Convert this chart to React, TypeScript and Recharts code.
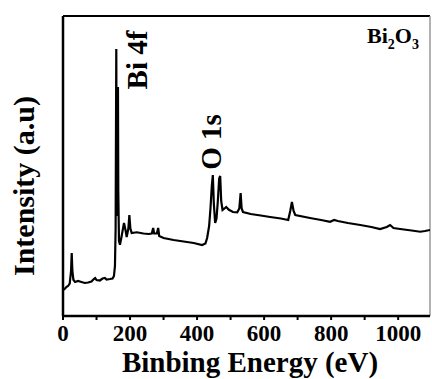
import { LineChart, Line, XAxis, YAxis, ReferenceLine } from 'recharts'

// binding energy (eV) and intensity (a.u.)
const energy = [
  0, 5, 10, 15, 20, 24, 26, 28, 31, 36, 45, 55, 65, 75, 85, 92, 96, 100, 110, 118,
  125, 130, 140, 148, 152, 155, 157, 159, 160, 161, 163, 164, 165, 167, 170, 175, 182, 187, 190, 195,
  198, 201, 205, 220, 240, 255, 265, 269, 272, 280, 284, 287, 300, 330, 360, 390, 415, 425, 430, 436,
  440, 444, 447, 450, 454, 458, 462, 466, 469, 472, 476, 482, 487, 495, 507, 520, 526, 530, 533, 537,
  560, 590, 618, 650, 672, 678, 683, 688, 693, 737, 770, 797, 809, 820, 850, 887, 920, 946, 966, 976,
  986, 1006, 1040, 1066, 1080, 1095,
]
const intensity = [
  1.04, 1.08, 1.16, 1.2, 1.3, 1.8, 2.52, 1.8, 1.45, 1.36, 1.4, 1.36, 1.32, 1.34, 1.38, 1.48, 1.52, 1.44, 1.42, 1.5,
  1.52, 1.46, 1.48, 1.5, 1.6, 2.0, 3.5, 10.68, 6.0, 4.0, 6.5, 9.16, 5.0, 3.0, 2.85, 3.2, 3.72, 3.4, 3.16, 3.5,
  4.04, 3.5, 3.32, 3.35, 3.3, 3.28, 3.3, 3.52, 3.3, 3.3, 3.52, 3.2, 3.12, 3.04, 2.98, 2.92, 2.84, 2.9, 3.12, 3.6,
  4.3, 5.2, 5.64, 4.5, 3.72, 3.9, 4.6, 5.5, 5.6, 4.6, 4.24, 4.3, 4.36, 4.25, 4.16, 4.15, 4.3, 4.92, 4.3, 4.16,
  4.08, 4.02, 3.96, 3.9, 3.84, 4.2, 4.56, 4.2, 4.04, 3.92, 3.84, 3.77, 3.84, 3.8, 3.72, 3.64, 3.56, 3.48, 3.56, 3.64,
  3.52, 3.48, 3.42, 3.37, 3.4, 3.44,
]
const xTicks = [0, 100, 200, 300, 400, 500, 600, 700, 800, 900, 1000]
const yTicks = [0, 1, 2, 3, 4, 5, 6, 7, 8, 9, 10, 11, 12]

const data = energy.map((e, i) => ({ e, v: intensity[i] }))

const font = '"Liberation Serif", "Times New Roman", serif'

export default function App() {
  return (
    <div style={{ position: 'absolute', left: 0, top: 0, width: 432, height: 379, background: '#fff' }}>
      <LineChart
        width={432}
        height={379}
        data={data}
        margin={{ top: 16, right: 2, left: 3, bottom: 33 }}
      >
        <XAxis
          dataKey="e"
          type="number"
          domain={[0, 1095]}
          allowDataOverflow
          ticks={xTicks}
          height={30}
          tickFormatter={(v: number) => (v % 200 === 0 ? String(v) : '')}
          tickSize={4}
          tickMargin={5}
          axisLine={{ stroke: '#000', strokeWidth: 2.5 }}
          tickLine={{ stroke: '#000', strokeWidth: 2 }}
          tick={{ fill: '#000', fontFamily: font, fontWeight: 700, fontSize: 23 }}
        />
        <YAxis
          type="number"
          domain={[0, 12]}
          allowDataOverflow
          ticks={yTicks}
          width={60}
          tick={false}
          tickSize={-3}
          axisLine={{ stroke: '#000', strokeWidth: 2.5 }}
          tickLine={{ stroke: '#000', strokeWidth: 1.5 }}
        />
        <ReferenceLine y={12} stroke="#000" strokeWidth={2} ifOverflow="visible" />
        <ReferenceLine x={1095} stroke="#999" strokeWidth={1.5} ifOverflow="visible" />
        <Line
          dataKey="v"
          type="linear"
          stroke="#000"
          strokeWidth={2.2}
          dot={false}
          isAnimationActive={false}
        />
      </LineChart>
      <svg
        width={432}
        height={379}
        style={{ position: 'absolute', left: 0, top: 0, pointerEvents: 'none' }}
      >
        <g fontFamily={font} fontWeight={700} fill="#000">
          <text transform="translate(34,186) rotate(-90)" textAnchor="middle" fontSize={30}>
            Intensity (a.u)
          </text>
          <text x={250} y={372} textAnchor="middle" fontSize={29}>
            Binbing Energy (eV)
          </text>
          <text transform="translate(147,60) rotate(-90)" textAnchor="middle" fontSize={29}>
            Bi 4f
          </text>
          <text transform="translate(221,142) rotate(-90)" textAnchor="middle" fontSize={29}>
            O 1s
          </text>
          <text x={367} y={43} fontSize={22}>
            Bi
            <tspan fontSize={14} dy={6}>2</tspan>
            <tspan fontSize={22} dy={-6}>O</tspan>
            <tspan fontSize={14} dy={6}>3</tspan>
          </text>
        </g>
      </svg>
    </div>
  )
}
